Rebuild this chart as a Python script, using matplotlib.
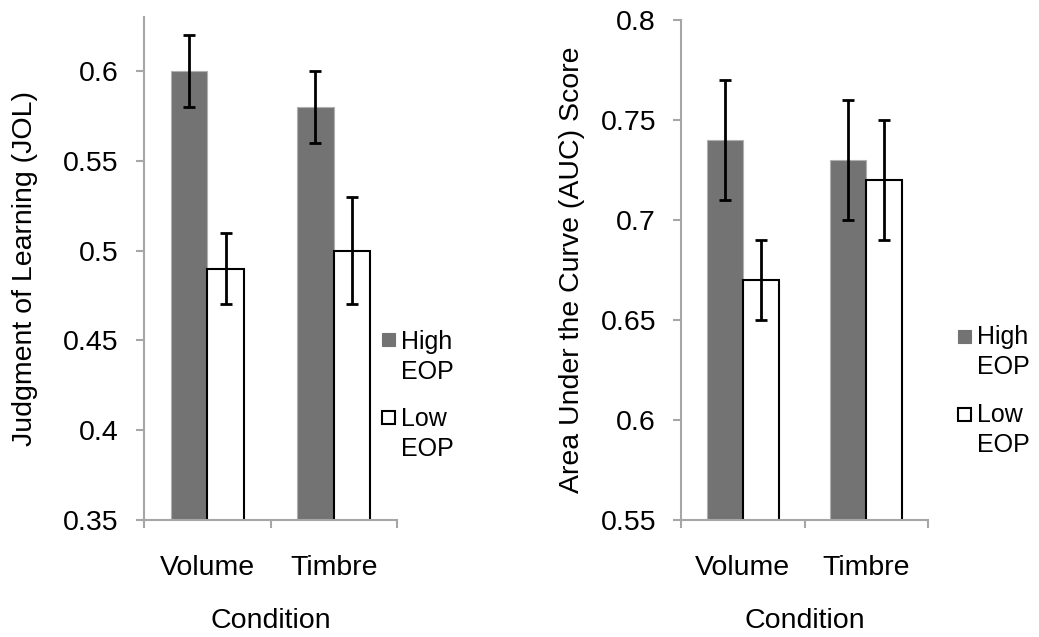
import matplotlib
matplotlib.use("Agg")
import matplotlib.pyplot as plt
from matplotlib.patches import Rectangle
import numpy as np

plt.rcParams['font.family'] = ['Liberation Sans', 'DejaVu Sans']

categories = ["Volume", "Timbre"]
series_names = ["High\nEOP", "Low\nEOP"]

jol_high = [0.60, 0.58]
jol_high_err = [0.02, 0.02]
jol_low = [0.49, 0.50]
jol_low_err = [0.02, 0.03]

auc_high = [0.74, 0.73]
auc_high_err = [0.03, 0.03]
auc_low = [0.67, 0.72]
auc_low_err = [0.02, 0.03]

jol_ticks = [0.35, 0.4, 0.45, 0.5, 0.55, 0.6]
jol_ticklabels = ["0.35", "0.4", "0.45", "0.5", "0.55", "0.6"]
auc_ticks = [0.55, 0.6, 0.65, 0.7, 0.75, 0.8]
auc_ticklabels = ["0.55", "0.6", "0.65", "0.7", "0.75", "0.8"]

W, H = 1039, 637
fig = plt.figure(figsize=(W / 100, H / 100), dpi=100)

axc = "#a6a6a6"
dark = "#737373"
fs = 20.5
lfs = 18


def fx(px):
    return px / W


def fy(py):
    return 1 - py / H


def make_ax(rect, high, high_err, low, low_err, ylim, ticks, ticklabels, ylabel, ylabelpad):
    ax = fig.add_axes(rect)
    x = np.arange(len(categories)) + 0.5
    bw = 0.29
    ax.bar(x - bw / 2, high, bw, color=dark, edgecolor="#b0b0b0", linewidth=0.8, zorder=2)
    ax.bar(x + bw / 2, low, bw, color="white", edgecolor="black", linewidth=1.5, zorder=2)
    ax.errorbar(x - bw / 2, high, yerr=high_err, fmt="none", ecolor="black",
                elinewidth=2, capsize=4.5, capthick=2, zorder=3)
    ax.errorbar(x + bw / 2, low, yerr=low_err, fmt="none", ecolor="black",
                elinewidth=2, capsize=4.5, capthick=2, zorder=3)
    ax.set_xlim(0, len(categories))
    ax.set_ylim(*ylim)
    ax.set_yticks(ticks, ticklabels)
    ax.set_xticks([0, 1, 2], ["", "", ""])
    ax.set_xticks(x, categories, minor=True)
    ax.tick_params(axis="x", which="minor", length=0, pad=25, labelsize=fs)
    ax.tick_params(axis="x", which="major", length=6, width=1.5, color=axc, direction="out")
    ax.tick_params(axis="y", length=6, width=1.5, color=axc, direction="out", pad=12, labelsize=fs)
    for s in ["top", "right"]:
        ax.spines[s].set_visible(False)
    for s in ["left", "bottom"]:
        ax.spines[s].set_color(axc)
        ax.spines[s].set_linewidth(1.5)
    ax.set_xlabel("Condition", fontsize=fs, labelpad=20)
    ax.set_ylabel(ylabel, fontsize=fs, labelpad=ylabelpad)
    return ax


def legend(x_sq, x_txt, tops, sq_tops, sq):
    styles = [dict(facecolor=dark, edgecolor=dark, linewidth=0.8),
              dict(facecolor="white", edgecolor="black", linewidth=1.5)]
    for name, t, st, style in zip(series_names, tops, sq_tops, styles):
        fig.patches.append(Rectangle((fx(x_sq), fy(st + sq)), sq / W, sq / H,
                                     transform=fig.transFigure, **style))
        fig.text(fx(x_txt), fy(t), name, fontsize=lfs, va="top", ha="left", linespacing=1.3)


ax1 = make_ax([fx(144), 117 / H, 253 / W, 503 / H], jol_high, jol_high_err, jol_low, jol_low_err,
              (0.35, 0.63), jol_ticks, jol_ticklabels, "Judgment of Learning (JOL)", 18)
ax2 = make_ax([fx(681), 117 / H, 247 / W, 500 / H], auc_high, auc_high_err, auc_low, auc_low_err,
              (0.55, 0.8), auc_ticks, auc_ticklabels, "Area Under the Curve (AUC) Score", 11)

legend(382, 401, [330, 407], [333, 411], 13)
legend(958, 977, [325, 403], [330, 408], 13)

fig.savefig("out.png", dpi=100)
